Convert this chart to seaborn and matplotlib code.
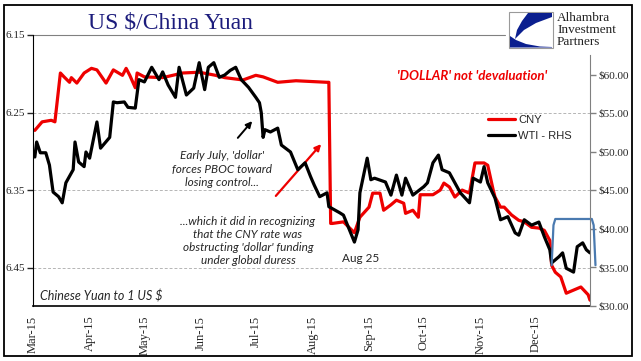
import pandas as pd
import matplotlib.pyplot as plt
import matplotlib.dates as mdates
from matplotlib.lines import Line2D
from matplotlib.patches import Rectangle, Polygon
from matplotlib.ticker import FuncFormatter
import seaborn as sns

# CNY per 1 US $ (left axis, inverted)
cny_dates = ["2015-03-02", "2015-03-06", "2015-03-11", "2015-03-13", "2015-03-16", "2015-03-18",
             "2015-03-21", "2015-03-22", "2015-03-25", "2015-03-29",
             "2015-04-02", "2015-04-05", "2015-04-10", "2015-04-14", "2015-04-19", "2015-04-21",
             "2015-04-23", "2015-04-26", "2015-04-27",
             "2015-05-01", "2015-05-11", "2015-05-22", "2015-05-31",
             "2015-06-09", "2015-06-14", "2015-06-24",
             "2015-07-01", "2015-07-05", "2015-07-13", "2015-07-23",
             "2015-08-09", "2015-08-10", "2015-08-11", "2015-08-12", "2015-08-18", "2015-08-24", "2015-08-27",
             "2015-09-01", "2015-09-03", "2015-09-07", "2015-09-09", "2015-09-13", "2015-09-16",
             "2015-09-20", "2015-09-21", "2015-09-25", "2015-09-28", "2015-09-29",
             "2015-10-06", "2015-10-10", "2015-10-12", "2015-10-15", "2015-10-18", "2015-10-22",
             "2015-10-26", "2015-10-29",
             "2015-11-03", "2015-11-05", "2015-11-08", "2015-11-09", "2015-11-12", "2015-11-14",
             "2015-11-18", "2015-11-22", "2015-11-25", "2015-11-29",
             "2015-12-03", "2015-12-06", "2015-12-09", "2015-12-10", "2015-12-12", "2015-12-15",
             "2015-12-18", "2015-12-22", "2015-12-26", "2015-12-30", "2015-12-31"]
cny_values = [6.273, 6.262, 6.260, 6.262, 6.199, 6.204, 6.211, 6.205, 6.212, 6.199,
              6.193, 6.195, 6.212, 6.195, 6.202, 6.193, 6.202, 6.218, 6.199,
              6.204, 6.205, 6.199, 6.198,
              6.202, 6.205, 6.208,
              6.202, 6.204, 6.211, 6.209,
              6.211, 6.211, 6.393, 6.393, 6.391, 6.405, 6.385,
              6.372, 6.354, 6.354, 6.376, 6.369, 6.363, 6.367, 6.380, 6.376, 6.385, 6.356,
              6.356, 6.350, 6.341, 6.346, 6.359, 6.350, 6.354, 6.315,
              6.315, 6.318, 6.350, 6.359, 6.372, 6.372, 6.382, 6.389, 6.391, 6.398,
              6.399, 6.402, 6.415, 6.447, 6.456, 6.462, 6.483, 6.479, 6.475, 6.485, 6.492]

# WTI crude, $ per barrel (right axis)
wti_dates = ["2015-03-02", "2015-03-03", "2015-03-05", "2015-03-08", "2015-03-10", "2015-03-12",
             "2015-03-15", "2015-03-17", "2015-03-19", "2015-03-23", "2015-03-24", "2015-03-26",
             "2015-03-29", "2015-03-30",
             "2015-04-01", "2015-04-05", "2015-04-07", "2015-04-12", "2015-04-14", "2015-04-16",
             "2015-04-20", "2015-04-22", "2015-04-26", "2015-04-28",
             "2015-05-01", "2015-05-05", "2015-05-09", "2015-05-11", "2015-05-14", "2015-05-18",
             "2015-05-20", "2015-05-24", "2015-05-28", "2015-05-31",
             "2015-06-03", "2015-06-05", "2015-06-08", "2015-06-11", "2015-06-14", "2015-06-17",
             "2015-06-20", "2015-06-23", "2015-06-27",
             "2015-07-01", "2015-07-03", "2015-07-04", "2015-07-05", "2015-07-06", "2015-07-09",
             "2015-07-13", "2015-07-15", "2015-07-20", "2015-07-24", "2015-07-28", "2015-07-31",
             "2015-08-02", "2015-08-05", "2015-08-09", "2015-08-10", "2015-08-16", "2015-08-18",
             "2015-08-24", "2015-08-26", "2015-08-27", "2015-08-31",
             "2015-09-02", "2015-09-04", "2015-09-10", "2015-09-13", "2015-09-16", "2015-09-19",
             "2015-09-21", "2015-09-25",
             "2015-10-01", "2015-10-03", "2015-10-06", "2015-10-09", "2015-10-11", "2015-10-15",
             "2015-10-21", "2015-10-26", "2015-10-28",
             "2015-11-01", "2015-11-03", "2015-11-05", "2015-11-09", "2015-11-12", "2015-11-16",
             "2015-11-20", "2015-11-22", "2015-11-25", "2015-11-29",
             "2015-12-03", "2015-12-06", "2015-12-09", "2015-12-10", "2015-12-14", "2015-12-16",
             "2015-12-18", "2015-12-22", "2015-12-24", "2015-12-27", "2015-12-29", "2015-12-31"]
wti_values = [49.35, 51.3, 49.9, 49.9, 48.3, 44.8, 44.2, 43.4, 46.0, 47.7, 51.3, 48.7, 48.1, 50.0,
              49.2, 53.9, 50.5, 51.9, 56.5, 56.4, 56.5, 55.8, 55.7, 59.4,
              59.1, 61.0, 59.4, 60.4, 58.7, 57.1, 61.0, 57.4, 58.3, 61.6,
              58.1, 61.0, 61.6, 59.7, 60.0, 60.6, 61.0, 59.4, 58.4,
              57.1, 56.4, 55.1, 51.9, 52.9, 52.6, 53.1, 50.9, 50.0, 47.7, 48.6, 46.8,
              45.7, 44.2, 44.7, 42.9, 42.1, 41.8, 38.3, 39.9, 44.7, 49.2,
              46.4, 46.6, 46.1, 44.4, 47.0, 44.4, 46.6, 44.4,
              45.5, 46.0, 48.6, 49.6, 47.7, 47.3, 44.7, 43.4, 46.6,
              46.1, 48.1, 46.0, 44.0, 41.2, 41.6, 39.5, 39.2, 41.2, 40.5,
              40.9, 39.0, 37.3, 35.6, 36.4, 36.9, 34.9, 34.4, 37.7, 38.2, 37.3, 36.9]

left_ticks = [6.15, 6.25, 6.35, 6.45]
right_ticks = [30, 35, 40, 45, 50, 55, 60]

cny = pd.DataFrame({"date": pd.to_datetime(cny_dates), "value": cny_values})
wti = pd.DataFrame({"date": pd.to_datetime(wti_dates), "value": wti_values})

sns.set_style("white")
plt.rcParams['font.family'] = ['Liberation Serif', 'DejaVu Serif']
SANS_IT = ['Lato', 'Open Sans', 'DejaVu Sans']

W, H = 641, 361
fig = plt.figure(figsize=(W / 100, H / 100), dpi=100)


def P(x, y):
    # pixel position -> figure fraction
    return x / W, 1 - y / H


ax = fig.add_axes([33 / W, 1 - 306 / H, (590 - 33) / W, (306 - 35) / H])
ax2 = ax.twinx()

sns.lineplot(data=cny, x="date", y="value", ax=ax, color="#ee0000", lw=2.3)
sns.lineplot(data=wti, x="date", y="value", ax=ax2, color="black", lw=2.3)

# left axis (CNY, inverted)
ax.set_ylim(6.4995, 6.15)
ax.set_yticks(left_ticks)
ax.yaxis.set_major_formatter(FuncFormatter(lambda v, p: f"{v:.2f}"))
for v in left_ticks[1:]:
    ax.axhline(v, color="#b5b5b5", lw=0.7, ls=(0, (3, 2)), zorder=0)
ax.set_xlim(pd.Timestamp("2015-03-01"), pd.Timestamp("2015-12-31"))
ax.xaxis.set_major_locator(mdates.MonthLocator())
ax.xaxis.set_major_formatter(mdates.DateFormatter("%b-%y"))
ax.tick_params(axis="x", rotation=90, labelsize=9, length=5, direction="out", width=1, pad=2)
ax.tick_params(axis="y", labelsize=8, length=4, direction="out", width=1, pad=2)
ax.set_xlabel("")
ax.set_ylabel("")

# right axis (WTI)
ax2.set_ylim(30, 30 + 271 / 7.7)
ax2.set_yticks(right_ticks)
ax2.yaxis.set_major_formatter(FuncFormatter(lambda v, p: f"\\${v:.2f}"))
ax2.tick_params(axis="y", labelsize=8, length=4, direction="out", width=1, color="#808080", pad=2)
ax2.set_ylabel("")

for a in (ax, ax2):
    a.spines["top"].set_visible(False)
ax2.spines["left"].set_visible(False)
ax2.spines["bottom"].set_visible(False)
ax.spines["right"].set_visible(False)
ax.spines["left"].set_color("black")
ax.spines["bottom"].set_color("black")
ax.spines["bottom"].set_linewidth(1.2)
ax2.spines["right"].set_color("#808080")
ax2.spines["right"].set_bounds(30, 30 + (306 - 55) / 7.7)

# partial top line (stops at the logo)
ax.plot([0, 0.847], [1, 1], transform=ax.transAxes, color="#808080", lw=0.8, clip_on=False)

# blue bracket around late December
bx = pd.to_datetime(["2015-12-10", "2015-12-11", "2015-12-12", "2016-01-01", "2016-01-02", "2016-01-03"])
ax2.plot(bx, [35.3, 40.5, 41.3, 41.3, 40.5, 35.3], color="#4a7ab0", lw=1.6, clip_on=False)

# legend
handles = [Line2D([], [], color="#ee0000", lw=2.3), Line2D([], [], color="black", lw=2.3)]
fig.legend(handles, ["CNY", "WTI - RHS"], loc="upper left", bbox_to_anchor=P(488, 115),
           frameon=False, prop={"family": "Liberation Sans", "size": 8},
           handlelength=2.4, handletextpad=0.3, labelspacing=0.55, borderpad=0, borderaxespad=0)

# title
fig.text(*P(170, 23), "US \\$/China Yuan", ha="center", va="center", fontsize=17, color="#1c1c7c")

# annotations
fig.text(*P(472, 76), "'DOLLAR' not 'devaluation'", ha="center", va="center", fontsize=9.5,
         color="#ee0000", fontweight="bold", style="italic", family=SANS_IT)
fig.text(*P(222, 169), "Early July, 'dollar'\nforces PBOC toward\nlosing control...", ha="center",
         va="center", fontsize=8.5, style="italic", family=SANS_IT, linespacing=1.25)
fig.text(*P(248, 241), "...which it did in recognizing\nthat the CNY rate was\nobstructing 'dollar' funding\nunder global duress",
         ha="center", va="center", fontsize=8.5, style="italic", family=SANS_IT, linespacing=1.25)
fig.text(*P(361, 258), "Aug 25", ha="center", va="center", fontsize=8.5, family=SANS_IT)
fig.text(*P(40, 296), "Chinese Yuan to 1 US \\$", ha="left", va="center", fontsize=9,
         style="italic", family=SANS_IT)

ax.annotate("", xy=P(254, 119), xytext=P(236, 140), xycoords="figure fraction",
            textcoords="figure fraction",
            arrowprops=dict(arrowstyle="-|>", color="black", lw=1.4, mutation_scale=9))
ax.annotate("", xy=P(323, 142), xytext=P(274, 198), xycoords="figure fraction",
            textcoords="figure fraction",
            arrowprops=dict(arrowstyle="-|>", color="#ee0000", lw=1.6, mutation_scale=9))

# logo
x0, y0 = P(509, 48)
x1, y1 = P(553, 12)
fig.patches.append(Rectangle((x0, y0), x1 - x0, y1 - y0, transform=fig.transFigure,
                             facecolor="white", edgecolor="#9a9a9a", lw=0.8))
fig.patches.append(Polygon([P(528, 13), P(552, 13), P(552, 17), P(536, 23), P(524, 30), P(515, 39),
                            P(517, 30), P(522, 21)], closed=True, transform=fig.transFigure,
                           facecolor="#0b1f8f", edgecolor="none"))
fig.patches.append(Polygon([P(510, 36), P(516, 40), P(526, 44), P(540, 46.5), P(552, 47),
                            P(552, 47.5), P(510, 47.5)], closed=True, transform=fig.transFigure,
                           facecolor="#0b1f8f", edgecolor="none"))
fig.text(*P(557, 30), "Alhambra\nInvestment\nPartners", ha="left", va="center", fontsize=9.5,
         color="#222222", linespacing=0.95)

# outer frame
fx0, fy0 = P(4, 356)
fx1, fy1 = P(632, 5)
fig.patches.append(Rectangle((fx0, fy0), fx1 - fx0, fy1 - fy0, transform=fig.transFigure,
                             facecolor="none", edgecolor="black", lw=1.3))

fig.savefig("out.png", dpi=100)
